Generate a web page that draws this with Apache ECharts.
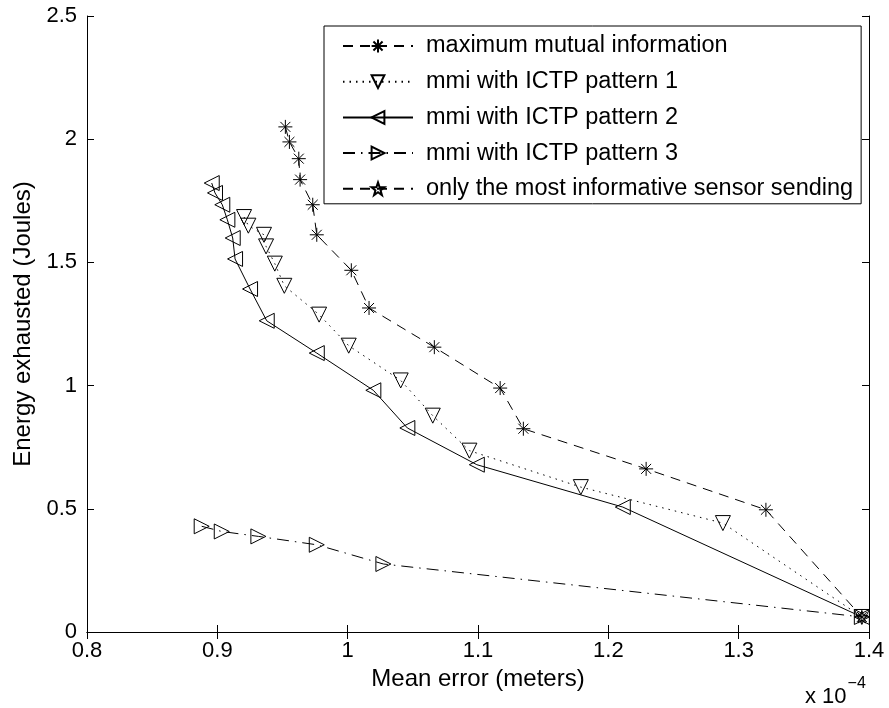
<!DOCTYPE html>
<html>
<head>
<meta charset="utf-8">
<script src="https://cdn.jsdelivr.net/npm/echarts@6/dist/echarts.min.js"></script>
<style>
  html, body { margin: 0; padding: 0; background: #fff; }
  #chart { width: 889px; height: 708px; }
</style>
</head>
<body>
<div id="chart"></div>
<script>
// mean error (x 10^-4 meters) and energy (Joules) per curve
const mmiX = [0.9522, 0.9553, 0.9625, 0.9635, 0.9732, 0.9763, 1.0028, 1.0164, 1.0665, 1.1170, 1.1348, 1.2290, 1.3209, 1.3945];
const mmiY = [2.050, 1.989, 1.921, 1.836, 1.734, 1.612, 1.468, 1.315, 1.156, 0.990, 0.825, 0.662, 0.496, 0.061];

const p1X = [0.9205, 0.9238, 0.9358, 0.9374, 0.9441, 0.9514, 0.9781, 1.0008, 1.0407, 1.0653, 1.0934, 1.1789, 1.2879, 1.3945];
const p1Y = [1.684, 1.649, 1.612, 1.565, 1.495, 1.405, 1.288, 1.162, 1.021, 0.878, 0.736, 0.588, 0.442, 0.061];

const p2X = [0.8957, 0.8982, 0.9038, 0.9077, 0.9118, 0.9136, 0.9251, 0.9379, 0.9763, 1.0197, 1.0458, 1.0991, 1.2111, 1.3945];
const p2Y = [1.822, 1.782, 1.734, 1.673, 1.599, 1.514, 1.392, 1.263, 1.132, 0.981, 0.828, 0.679, 0.507, 0.061];

const p3X = [0.8880, 0.9034, 0.9315, 0.9763, 1.0274, 1.3945];
const p3Y = [0.429, 0.408, 0.388, 0.354, 0.276, 0.061];

const onlyX = [1.3945];
const onlyY = [0.061];

const names = [
    'maximum mutual information',
    'mmi with ICTP pattern 1',
    'mmi with ICTP pattern 2',
    'mmi with ICTP pattern 3',
    'only the most informative sensor sending'
];

const xTicks = { min: 0.8, max: 1.4, step: 0.1 };
const yTicks = { min: 0, max: 2.5, step: 0.5 };

const FONT = 'Liberation Sans';
const asterisk = 'path://M8,0 L8,16 M0,8 L16,8 M2.3,2.3 L13.7,13.7 M2.3,13.7 L13.7,2.3';
const star = 'path://M10,0 L12.35,6.76 L19.51,6.91 L13.8,11.24 L15.88,18.09 L10,14 L4.12,18.09 L6.2,11.24 L0.49,6.91 L7.65,6.76 Z';

function zip(xs, ys) {
    return xs.map((x, i) => [x, ys[i]]);
}

function makeSeries(name, xs, ys, symbol, rotate, size, dash) {
    return {
        name: name,
        type: 'line',
        data: zip(xs, ys),
        symbol: symbol,
        symbolRotate: rotate,
        symbolSize: size,
        showAllSymbol: true,
        lineStyle: { color: '#000', width: 1, type: dash },
        itemStyle: { color: 'rgba(0,0,0,0)', borderColor: '#000', borderWidth: 1 },
        emphasis: { disabled: true },
        z: 3
    };
}

let myChart;

window.onload = function () {
    myChart = echarts.init(document.getElementById('chart'));
    myChart.setOption(option);
}

const axisCommon = {
    type: 'value',
    axisLine: { show: true, lineStyle: { color: '#000', width: 1 } },
    axisTick: { show: true, inside: true, length: 7, lineStyle: { color: '#000' } },
    splitLine: { show: false }
};

const option = {
    animation: false,
    backgroundColor: '#fff',
    grid: { left: 87, right: 20, top: 16, bottom: 76, containLabel: false },
    legend: {
        orient: 'vertical',
        left: 324,
        top: 26,
        padding: [8, 8, 3, 18],
        itemWidth: 70,
        itemHeight: 16,
        itemGap: 11.7,
        backgroundColor: '#fff',
        borderColor: '#000',
        borderWidth: 1,
        borderRadius: 0,
        textStyle: { fontFamily: FONT, fontSize: 23.5, color: '#000', lineHeight: 24, padding: [0, 0, 0, 8] },
        data: names
    },
    xAxis: [
        Object.assign({}, axisCommon, {
            min: xTicks.min, max: xTicks.max, interval: xTicks.step,
            position: 'bottom',
            name: 'Mean error (meters)',
            nameLocation: 'middle',
            nameGap: 31,
            nameTextStyle: { fontFamily: FONT, fontSize: 24, color: '#000' },
            axisLabel: { fontFamily: FONT, fontSize: 22, color: '#000', margin: 8 }
        }),
        Object.assign({}, axisCommon, {
            min: xTicks.min, max: xTicks.max, interval: xTicks.step,
            position: 'top',
            axisLabel: { show: false }
        })
    ],
    yAxis: [
        Object.assign({}, axisCommon, {
            min: yTicks.min, max: yTicks.max, interval: yTicks.step,
            position: 'left',
            name: 'Energy exhausted (Joules)',
            nameLocation: 'middle',
            nameGap: 51,
            nameTextStyle: { fontFamily: FONT, fontSize: 24, color: '#000' },
            axisLabel: { fontFamily: FONT, fontSize: 22, color: '#000', margin: 10 }
        }),
        Object.assign({}, axisCommon, {
            min: yTicks.min, max: yTicks.max, interval: yTicks.step,
            position: 'right',
            axisLabel: { show: false }
        })
    ],
    graphic: [
        {
            type: 'text',
            left: 805,
            top: 676,
            style: {
                text: '{b|x 10}{s|\u22124}',
                rich: {
                    b: { fontFamily: FONT, fontSize: 22, fill: '#000', verticalAlign: 'bottom', lineHeight: 28 },
                    s: { fontFamily: FONT, fontSize: 16, fill: '#000', verticalAlign: 'top', padding: [0, 0, 16, 1] }
                }
            }
        }
    ],
    series: [
        makeSeries(names[0], mmiX, mmiY, asterisk, 0, 14, [10, 7]),
        makeSeries(names[1], p1X, p1Y, 'triangle', 180, 15, [1.5, 5]),
        makeSeries(names[2], p2X, p2Y, 'triangle', 90, 15, 'solid'),
        makeSeries(names[3], p3X, p3Y, 'triangle', -90, 15, [12, 6, 1.5, 6]),
        makeSeries(names[4], onlyX, onlyY, star, 0, 12, [10, 7])
    ]
};
</script>
</body>
</html>
